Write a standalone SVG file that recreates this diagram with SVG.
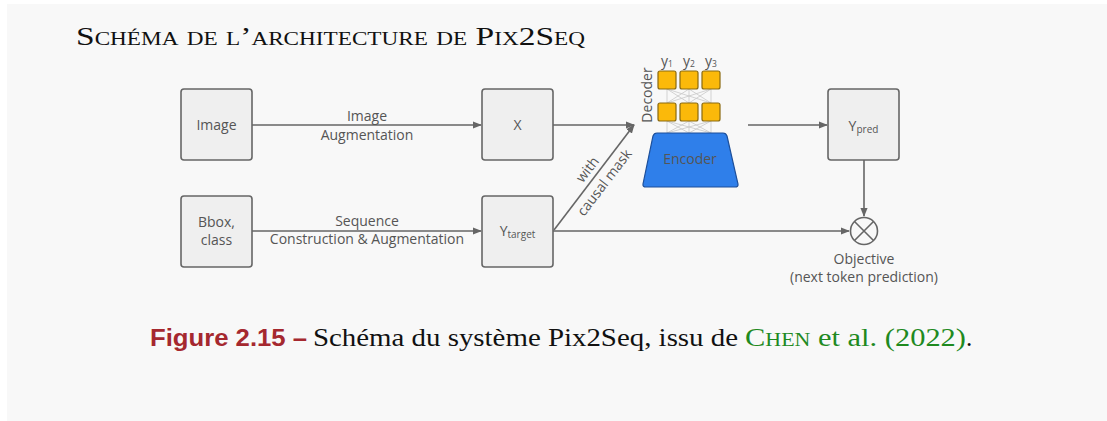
<svg xmlns="http://www.w3.org/2000/svg" width="1107" height="421" viewBox="0 0 1107 421">
<defs>
<marker id="arr" viewBox="0 0 10 10" refX="9" refY="5" markerWidth="9" markerHeight="9" markerUnits="userSpaceOnUse" orient="auto">
<path d="M0,1 L10,5 L0,9 z" fill="#666"/>
</marker>
</defs>
<style>
.box{fill:#efefef;stroke:#666;stroke-width:1.6}
.t{font-family:"Open Sans","Noto Sans",sans-serif;font-size:14px;fill:#555;text-anchor:middle}
.ln{stroke:#666;stroke-width:1.6;fill:none}
.tk{fill:#fbb90a;stroke:#8a6a10;stroke-width:1.2}
.th{stroke:#c8c8c8;stroke-width:0.8;fill:none}
.cap{font-family:"Liberation Serif",serif;font-size:25px;fill:#111}
.cap.g{fill:#1f8a1f}
</style>
<rect x="0" y="0" width="1107" height="421" fill="#ffffff"/>
<rect x="7" y="4" width="1100" height="417" fill="#f8f8f8"/>
<text x="76" y="45" font-family="Liberation Serif,serif" font-size="26" font-variant="small-caps" fill="#111" textLength="509" lengthAdjust="spacingAndGlyphs">Schéma de l’architecture de Pix2Seq</text>

<g id="connectors">
<line class="ln" x1="252" y1="125" x2="481" y2="125" marker-end="url(#arr)"/>
<line class="ln" x1="252" y1="231" x2="481" y2="231" marker-end="url(#arr)"/>
<line class="ln" x1="553" y1="125" x2="634" y2="125" marker-end="url(#arr)"/>
<line class="ln" x1="554" y1="230" x2="634" y2="125" marker-end="url(#arr)"/>
<line class="ln" x1="748" y1="125" x2="827" y2="125" marker-end="url(#arr)"/>
<line class="ln" x1="864" y1="160" x2="864" y2="216" marker-end="url(#arr)"/>
<line class="ln" x1="553" y1="231" x2="849" y2="231" marker-end="url(#arr)"/>
<text class="t" x="367" y="121">Image</text>
<text class="t" x="367" y="140">Augmentation</text>
<text class="t" x="367" y="226">Sequence</text>
<text class="t" x="367" y="244">Construction &amp; Augmentation</text>
<text class="t" font-size="13" transform="translate(588,170) rotate(-52.5)" dy="4">with</text>
<text class="t" font-size="13" transform="translate(605,183) rotate(-52.5)" dy="4">causal mask</text>
</g>

<g id="image"><rect class="box" x="181" y="89" width="71" height="71" rx="3"/><text class="t" x="216.5" y="130">Image</text></g>
<g id="bbox"><rect class="box" x="181" y="196" width="71" height="71" rx="3"/><text class="t" x="216.5" y="227">Bbox,</text><text class="t" x="216.5" y="245">class</text></g>
<g id="x"><rect class="box" x="482" y="89" width="71" height="71" rx="3"/><text class="t" x="517.5" y="130">X</text></g>
<g id="ytarget"><rect class="box" x="482" y="196" width="71" height="71" rx="3"/><text class="t" x="517.5" y="236">Y<tspan font-size="10" dy="2">target</tspan></text></g>

<g id="model">
<g>
<path class="th" d="M667,89 L667,103 M667,89 L689,103 M667,89 L711,103 M689,89 L667,103 M689,89 L689,103 M689,89 L711,103 M711,89 L667,103 M711,89 L689,103 M711,89 L711,103"/>
<path class="th" d="M667,121 L667,133 M667,121 L689,133 M667,121 L711,133 M689,121 L667,133 M689,121 L689,133 M689,121 L711,133 M711,121 L667,133 M711,121 L689,133 M711,121 L711,133"/>
</g>
<rect class="tk" x="658" y="71" width="18" height="18" rx="2"/>
<rect class="tk" x="680" y="71" width="18" height="18" rx="2"/>
<rect class="tk" x="702" y="71" width="18" height="18" rx="2"/>
<rect class="tk" x="658" y="103" width="18" height="18" rx="2"/>
<rect class="tk" x="680" y="103" width="18" height="18" rx="2"/>
<rect class="tk" x="702" y="103" width="18" height="18" rx="2"/>
<text class="t" font-size="12" x="667" y="66">y<tspan font-size="8.5" dy="1">1</tspan></text>
<text class="t" font-size="12" x="689" y="66">y<tspan font-size="8.5" dy="1">2</tspan></text>
<text class="t" font-size="12" x="711" y="66">y<tspan font-size="8.5" dy="1">3</tspan></text>
<text class="t" font-size="13" transform="translate(648,95) rotate(-90)" dy="4">Decoder</text>
<path d="M657,133 L723,133 Q726,133 727,136 L738,184 Q738.5,187 735,187 L646,187 Q642.5,187 643,184 L653,136 Q654,133 657,133 z" fill="#2f7fea" stroke="#1d4f9a" stroke-width="1.2"/>
<text class="t" font-size="11.5" x="690" y="164" fill="#1c3560">Encoder</text>
</g>

<g id="ypred"><rect class="box" x="828" y="89" width="71" height="71" rx="3"/><text class="t" x="863.5" y="131">Y<tspan font-size="10" dy="2">pred</tspan></text></g>

<g id="objective">
<circle cx="864" cy="231" r="13.5" fill="none" stroke="#666" stroke-width="1.6"/>
<path d="M854.5,221.5 L873.5,240.5 M873.5,221.5 L854.5,240.5" stroke="#666" stroke-width="1.6"/>
<text class="t" x="864" y="264">Objective</text>
<text class="t" x="864" y="282">(next token prediction)</text>
</g>

<g id="caption">
<text x="150" y="346" font-family="Liberation Sans Narrow,Liberation Sans,sans-serif" font-weight="bold" font-size="24" fill="#a5282f" textLength="157" lengthAdjust="spacingAndGlyphs">Figure 2.15 –</text>
<text class="cap" x="313" y="346" textLength="425" lengthAdjust="spacingAndGlyphs">Schéma du système Pix2Seq, issu de</text>
<text class="cap g" x="745" y="346" textLength="221" lengthAdjust="spacingAndGlyphs"><tspan font-variant="small-caps">Chen</tspan> et al. (2022)</text>
<text class="cap" x="966" y="346">.</text>
</g>
</svg>
